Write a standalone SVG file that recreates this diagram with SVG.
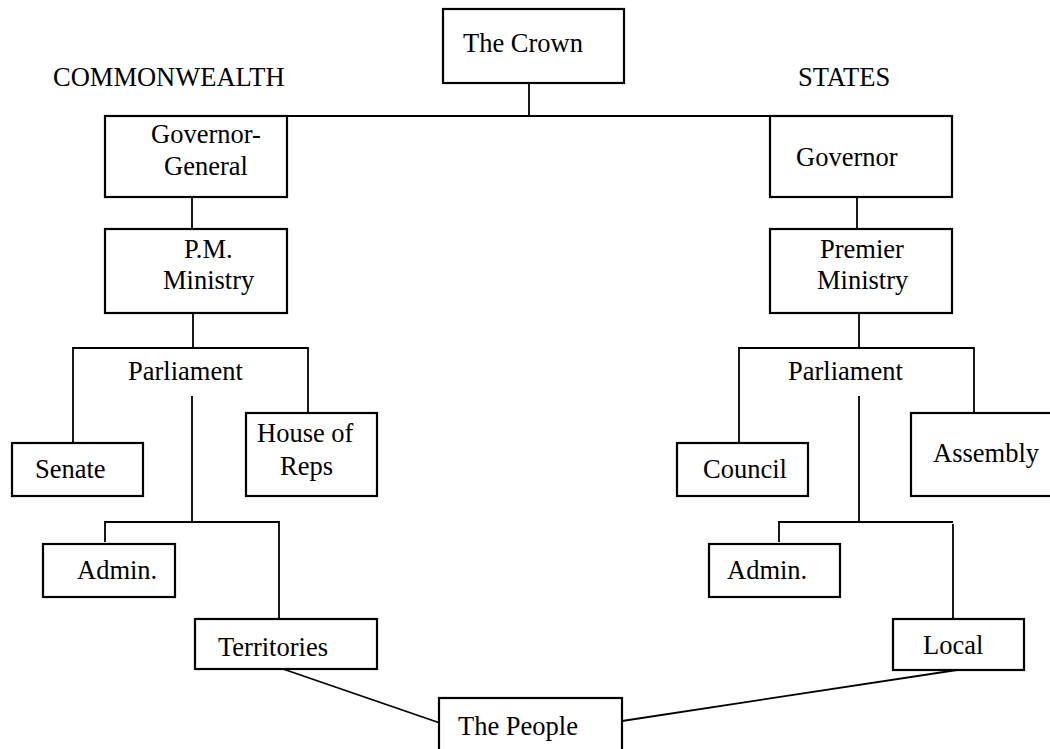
<svg xmlns="http://www.w3.org/2000/svg" width="1050" height="749" viewBox="0 0 1050 749">
<style>
.box{fill:#fff;stroke:#000;stroke-width:2.2}
.ln{fill:none;stroke:#000;stroke-width:1.8}
text{font-family:"Liberation Serif","Times New Roman",serif;font-size:26.5px;fill:#000}
</style>
<rect width="1050" height="749" fill="#fff"/>
<g id="connectors">
<polyline class="ln" points="529,83 529,116"/>
<polyline class="ln" points="287,116 770,116"/>
<polyline class="ln" points="192,197 192,229"/>
<polyline class="ln" points="857,197 857,229"/>
<polyline class="ln" points="193,313 193,348"/>
<polyline class="ln" points="73,443 73,348 308,348 308,413"/>
<polyline class="ln" points="192,396 192,522"/>
<polyline class="ln" points="105,542 105,522 279,522 279,619"/>
<polyline class="ln" points="859,313 859,348"/>
<polyline class="ln" points="739,443 739,348 974,348 974,412"/>
<polyline class="ln" points="859,396 859,522"/>
<polyline class="ln" points="779,542 779,522 953,522"/>
<polyline class="ln" points="953,524 953,619"/>
<polyline class="ln" points="283,669 440,723"/>
<polyline class="ln" points="622,721 957,670"/>
</g>
<g id="label-commonwealth"><text x="53" y="86">COMMONWEALTH</text></g>
<g id="label-states"><text x="798" y="86">STATES</text></g>
<g id="crown"><rect class="box" x="443" y="9" width="181" height="74"/><text x="463" y="52">The Crown</text></g>
<g id="governor-general"><rect class="box" x="105" y="116" width="182" height="81"/><text x="151" y="143">Governor-</text><text x="164" y="175">General</text></g>
<g id="governor"><rect class="box" x="770" y="116" width="182" height="81"/><text x="796" y="166">Governor</text></g>
<g id="pm-ministry"><rect class="box" x="105" y="229" width="182" height="84"/><text x="184" y="258">P.M.</text><text x="163" y="289">Ministry</text></g>
<g id="premier-ministry"><rect class="box" x="770" y="229" width="182" height="84"/><text x="820" y="258">Premier</text><text x="817" y="289">Ministry</text></g>
<g id="parliament-cw"><text x="128" y="380">Parliament</text></g>
<g id="parliament-st"><text x="788" y="380">Parliament</text></g>
<g id="senate"><rect class="box" x="12" y="443" width="131" height="53"/><text x="35" y="478">Senate</text></g>
<g id="house-of-reps"><rect class="box" x="246" y="413" width="131" height="83"/><text x="257" y="442">House of</text><text x="280" y="475">Reps</text></g>
<g id="council"><rect class="box" x="677" y="443" width="131" height="53"/><text x="703" y="478">Council</text></g>
<g id="assembly"><rect class="box" x="911" y="413" width="145" height="83"/><text x="933" y="462">Assembly</text></g>
<g id="admin-cw"><rect class="box" x="43" y="544" width="132" height="53"/><text x="77" y="579">Admin.</text></g>
<g id="admin-st"><rect class="box" x="709" y="544" width="131" height="53"/><text x="727" y="579">Admin.</text></g>
<g id="territories"><rect class="box" x="195" y="619" width="182" height="50"/><text x="218" y="656">Territories</text></g>
<g id="local"><rect class="box" x="893" y="619" width="131" height="51"/><text x="923" y="654">Local</text></g>
<g id="people"><rect class="box" x="439" y="698" width="183" height="55"/><text x="458" y="735">The People</text></g>
</svg>
